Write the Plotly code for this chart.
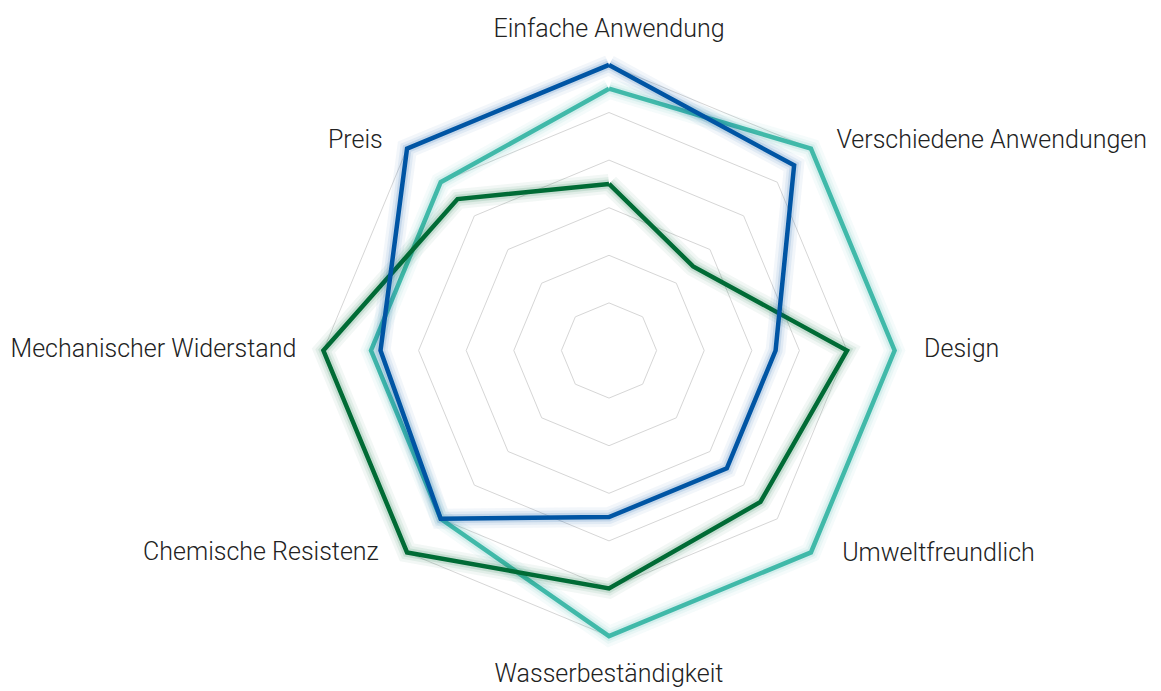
import plotly.graph_objects as go

categories = ["Einfache Anwendung", "Verschiedene Anwendungen", "Design", "Umweltfreundlich",
              "Wasserbeständigkeit", "Chemische Resistenz", "Mechanischer Widerstand", "Preis"]
teal_values = [5.5, 6.0, 6.0, 6.0, 6.0, 5.0, 5.0, 5.0]
green_values = [3.5, 2.5, 5.0, 4.5, 5.0, 6.0, 6.0, 4.5]
blue_values = [6.0, 5.5, 3.5, 3.5, 3.5, 5.0, 4.8, 6.0]
grid_levels = [1, 2, 3, 4, 5, 6]

# label placement (layout, not data)
label_r = [6.71, 6.19, 6.62, 6.08, 6.84, 6.05, 6.57, 6.19]
label_pos = ["middle center", "middle right", "middle right", "middle right",
             "middle center", "middle left", "middle left", "middle left"]
label_pad = [0, 29, 0, 44, 0, 41, 0, 27]

series = [
    ("Teal", teal_values, "#40b9a9", "rgba(64,185,169,{a})"),
    ("Grün", green_values, "#006b35", "rgba(0,107,53,{a})"),
    ("Blau", blue_values, "#0055a4", "rgba(0,85,164,{a})"),
]

fig = go.Figure()
for name, vals, col, rgba in series:
    r = vals + vals[:1]
    th = categories + categories[:1]
    for w, a in [(20, 0.05), (14, 0.07), (9, 0.12)]:
        fig.add_trace(go.Scatterpolar(r=r, theta=th, mode="lines",
                                      line=dict(color=rgba.format(a=a), width=w),
                                      hoverinfo="skip", showlegend=False))
    fig.add_trace(go.Scatterpolar(r=r, theta=th, mode="lines", name=name,
                                  line=dict(color=col, width=4.5), showlegend=False))

fig.add_trace(go.Scatterpolar(
    r=label_r, theta=categories, mode="markers+text", text=categories,
    textposition=label_pos, cliponaxis=False, hoverinfo="skip", showlegend=False,
    marker=dict(size=label_pad, opacity=0),
    textfont=dict(family="Roboto", size=25, color="#222222", weight=300),
))

RMAX = 7.0
R = RMAX * 47.6
cx, cy = 601, 691 - 350 + 7.5
fig.update_layout(
    width=1161, height=691,
    margin=dict(l=0, r=0, t=0, b=0),
    paper_bgcolor="white",
    showlegend=False,
    polar=dict(
        bgcolor="rgba(0,0,0,0)",
        gridshape="linear",
        domain=dict(x=[(cx - R) / 1161, (cx + R) / 1161], y=[(cy - R) / 691, (cy + R) / 691]),
        radialaxis=dict(range=[0, RMAX], tickvals=grid_levels, showticklabels=False,
                        ticks="", showline=False, gridcolor="#d6d6d6", gridwidth=1.2),
        angularaxis=dict(direction="clockwise", rotation=90, showgrid=False, showline=False,
                         ticks="", showticklabels=False),
    ),
)

fig.write_html("out.html")
